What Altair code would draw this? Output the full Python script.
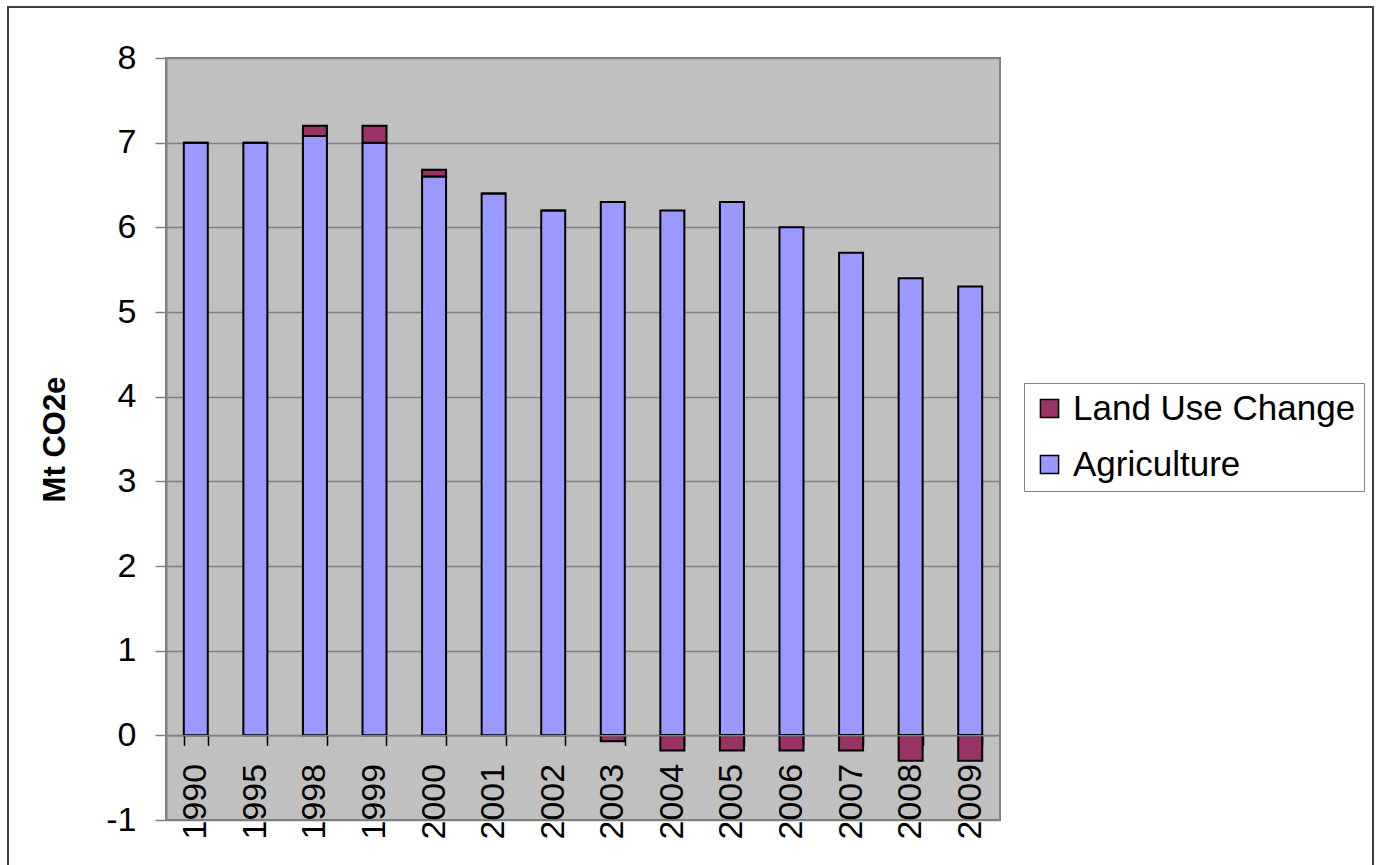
import altair as alt
import pandas as pd

# Emissions by year, Mt CO2e
years = ["1990", "1995", "1998", "1999", "2000", "2001", "2002",
         "2003", "2004", "2005", "2006", "2007", "2008", "2009"]
agriculture = [7.0, 7.0, 7.08, 7.0, 6.6, 6.4, 6.2, 6.3, 6.2, 6.3, 6.0, 5.7, 5.4, 5.3]
land_use_change = [0.0, 0.0, 0.12, 0.2, 0.08, 0.0, 0.0, -0.07, -0.18, -0.18, -0.18, -0.18, -0.3, -0.3]

series_names = ["Land Use Change", "Agriculture"]
series_colors = ["#993366", "#9999FF"]

rows = []
for i, yr in enumerate(years):
    rows.append({"year": yr, "series": "Agriculture", "value": agriculture[i], "stack_order": 0})
    rows.append({"year": yr, "series": "Land Use Change", "value": land_use_change[i], "stack_order": 1})
df = pd.DataFrame(rows)

W, H = 834, 762
Y_MIN, Y_MAX = -1, 8
FONT = "Liberation Sans"

bars = alt.Chart(df).mark_bar(size=24, stroke="black", strokeWidth=2).encode(
    x=alt.X("year:N", sort=years, scale=alt.Scale(paddingInner=0.6, paddingOuter=0.3),
            axis=alt.Axis(orient="bottom", offset=-H * (0 - Y_MIN) / (Y_MAX - Y_MIN),
                          labelAngle=270, labelAlign="right", labelBaseline="middle",
                          tickBand="extent", tickSize=10, tickColor="black", tickWidth=1.5,
                          domainColor="#808080", domainWidth=1.5,
                          labelFontSize=34, labelPadding=18, labelColor="black",
                          labelFont=FONT, title=None, zindex=1)),
    y=alt.Y("value:Q", stack="zero",
            scale=alt.Scale(domain=[Y_MIN, Y_MAX], nice=False),
            axis=alt.Axis(values=list(range(Y_MIN, Y_MAX + 1)),
                          labelExpr="'' + datum.value",
                          title="Mt CO2e", titleFontSize=31, titleFontWeight="bold",
                          titleFont=FONT, titleColor="black", titlePadding=34,
                          labelFontSize=34, labelFont=FONT, labelColor="black",
                          labelPadding=19, tickSize=11, tickColor="#808080", tickWidth=1.5,
                          domainColor="#808080", domainWidth=2,
                          grid=True, gridColor="#808080", gridWidth=1.5)),
    color=alt.Color("series:N",
                    scale=alt.Scale(domain=series_names, range=series_colors),
                    legend=alt.Legend(title=None, orient="none", legendX=858, legendY=325,
                                      symbolType="square", symbolSize=330,
                                      symbolStrokeWidth=1.5, symbolStrokeColor="black",
                                      labelFontSize=35, labelFont=FONT, labelColor="black",
                                      labelLimit=600, labelOffset=6, rowPadding=20,
                                      padding=8, strokeColor="#808080", fillColor="white")),
    order=alt.Order("stack_order:Q"),
)

# outer frame around the whole figure
frame = alt.Chart(alt.Data(values=[{}])).mark_rect(
    fill="transparent", stroke="#404040", strokeWidth=2
).encode(
    x=alt.value(-158), x2=alt.value(1207), y=alt.value(-51), y2=alt.value(900)
)

chart = alt.layer(bars, frame).properties(
    width=W, height=H,
    background="white",
    autosize=alt.AutoSizeParams(type="none"),
    padding={"left": 166, "top": 58, "right": 379, "bottom": 45},
).configure_view(
    fill="#C0C0C0", stroke="#808080", strokeWidth=2
)

chart.save("out.html", embed_options={"renderer": "svg", "actions": False})
